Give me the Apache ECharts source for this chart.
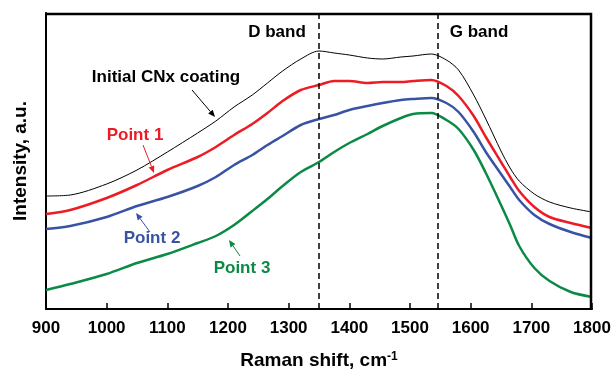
<!DOCTYPE html>
<html>
<head>
<meta charset="utf-8">
<script src="https://cdn.jsdelivr.net/npm/echarts@6/dist/echarts.min.js"></script>
<style>
html,body{margin:0;padding:0;background:#fff;}
#chart{width:616px;height:369px;}
</style>
</head>
<body>
<div id="chart"></div>
<script>
// Raman shift (cm-1)
var ramanShift = [900, 940, 1000, 1050, 1100, 1150, 1180, 1210, 1240, 1265, 1290, 1320, 1350, 1375, 1400, 1430, 1455, 1485, 1505, 1535, 1560, 1580, 1605, 1625, 1650, 1665, 1680, 1705, 1730, 1765, 1800];
// Intensity (a.u.)
var initialCNx = [113, 114, 125, 139, 157, 176, 188, 202, 214, 226, 238, 250, 258, 256, 254, 251, 250, 252, 253, 255, 249, 239, 214, 190, 158, 141, 128, 115, 107, 101, 97];
var point1 = [95, 99, 111, 124, 139, 152, 162, 174, 185, 196, 208, 219, 224, 228, 228, 226, 227, 227, 228, 229, 223, 213, 193, 172, 147, 132, 118, 102, 92, 86, 81];
var point2 = [80, 83, 92, 103, 112, 123, 132, 144, 154, 164, 173, 184, 190, 194, 199, 203, 206, 209, 210, 211, 206, 197, 177, 157, 135, 122, 109, 94, 85, 77, 71];
var point3 = [19, 25, 35, 46, 55, 66, 73, 84, 98, 110, 123, 137, 147, 157, 166, 175, 183, 191, 195, 196, 189, 180, 159, 136, 104, 84, 63, 41, 28, 17, 12];
var bandPositions = [1350, 1545];
var xTicks = {min: 900, max: 1800, interval: 100};
var yRange = {min: 0, max: 296};

function pairs(ys) { return ramanShift.map(function (x, i) { return [x, ys[i]]; }); }

var FONT = 'Liberation Sans, Arial, sans-serif';

function arrow(x1, y1, x2, y2, color, w) {
  var ang = Math.atan2(y2 - y1, x2 - x1);
  var L = 7, H = 3;
  var bx = x2 - L * Math.cos(ang), by = y2 - L * Math.sin(ang);
  var px = -Math.sin(ang) * H, py = Math.cos(ang) * H;
  return [
    {type: 'line', silent: true, z: 100, shape: {x1: x1, y1: y1, x2: bx, y2: by}, style: {stroke: color, lineWidth: w}},
    {type: 'polygon', silent: true, z: 100, shape: {points: [[x2, y2], [bx + px, by + py], [bx - px, by - py]]}, style: {fill: color}}
  ];
}
function label(text, x, y, color) {
  return {type: 'text', silent: true, z: 100, x: x, y: y, style: {text: text, fill: color, font: 'bold 17px ' + FONT, textAlign: 'center', textVerticalAlign: 'middle'}};
}

var RED = '#ed1c24', BLUE = '#3953a4', GREEN = '#0b8a45';

var graphic = [
  {type: 'polyline', silent: true, z: 100, shape: {points: [[45, 14], [591, 14], [591, 310]]},
    style: {fill: null, stroke: '#000', lineWidth: 2.5}},
  label('D band', 277, 32, '#000'),
  label('G band', 479, 32, '#000'),
  label('Initial CNx coating', 166, 77, '#000'),
  label('Point 1', 135, 135, RED),
  label('Point 2', 152, 238, BLUE),
  label('Point 3', 242, 268, GREEN)
].concat(arrow(192, 90, 215, 117, '#000', 1))
 .concat(arrow(143, 145, 154, 173, RED, 1))
 .concat(arrow(150, 232, 136, 213, BLUE, 1))
 .concat(arrow(240, 256, 229, 240, GREEN, 1));

var chart = echarts.init(document.getElementById('chart'), null, {renderer: 'canvas'});
chart.setOption({
  animation: false,
  backgroundColor: '#fff',
  grid: {left: 46, right: 24, top: 13, bottom: 60, containLabel: false, outerBoundsMode: 'none'},
  xAxis: {
    type: 'value', min: xTicks.min, max: xTicks.max, interval: xTicks.interval,
    axisLine: {show: true, onZero: false, lineStyle: {color: '#000', width: 2}},
    axisTick: {show: true, inside: true, length: 6, lineStyle: {color: '#000', width: 1.5}},
    axisLabel: {color: '#000', fontSize: 17, fontWeight: 'bold', fontFamily: FONT, margin: 11,
      formatter: function (v) { return String(v); }},
    splitLine: {show: false},
    name: 'Raman shift, cm{sup|-1}', nameLocation: 'middle', nameGap: 42,
    nameTextStyle: {color: '#000', fontSize: 19, fontWeight: 'bold', fontFamily: FONT,
      rich: {sup: {fontSize: 12, fontWeight: 'bold', fontFamily: FONT, verticalAlign: 'top', color: '#000', padding: [0, 0, 8, 0]}}}
  },
  yAxis: {
    type: 'value', min: yRange.min, max: yRange.max,
    axisLine: {show: true, onZero: false, lineStyle: {color: '#000', width: 2}},
    axisTick: {show: false}, axisLabel: {show: false}, splitLine: {show: false},
    name: 'Intensity, a.u.', nameLocation: 'middle', nameGap: 16, nameRotate: 90,
    nameTextStyle: {color: '#000', fontSize: 19, fontWeight: 'bold', fontFamily: FONT}
  },
  series: [
    {name: 'Initial CNx coating', type: 'line', data: pairs(initialCNx), showSymbol: false, smooth: 0.3, lineStyle: {color: '#000', width: 1}, z: 5,
      markLine: {silent: true, symbol: 'none', label: {show: false}, lineStyle: {color: '#000', width: 1.5, type: [6, 4]},
        data: bandPositions.map(function (b) { return {xAxis: b}; })}},
    {name: 'Point 1', type: 'line', data: pairs(point1), showSymbol: false, smooth: 0.3, lineStyle: {color: RED, width: 2.5}},
    {name: 'Point 2', type: 'line', data: pairs(point2), showSymbol: false, smooth: 0.3, lineStyle: {color: BLUE, width: 2.5}},
    {name: 'Point 3', type: 'line', data: pairs(point3), showSymbol: false, smooth: 0.3, lineStyle: {color: GREEN, width: 2.5}}
  ],
  graphic: graphic
});
</script>
</body>
</html>
